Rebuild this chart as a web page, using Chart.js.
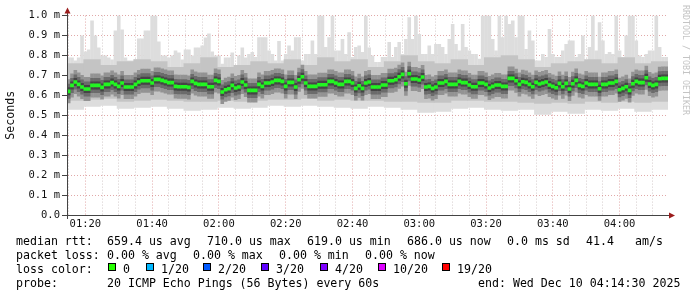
<!DOCTYPE html>
<html>
<head>
<meta charset="utf-8">
<title>SmokePing latency</title>
<script src="https://cdn.jsdelivr.net/npm/chart.js@4.4.1/dist/chart.umd.min.js"></script>
<style>
    body { margin: 0; background: #ffffff; }
    #wrap { position: relative; width: 697px; height: 297px; overflow: hidden; }
    #graph { position: absolute; left: 0; top: 0; }
    .legend-text {
        position: absolute;
        font-family: 'DejaVu Sans Mono', monospace;
        font-size: 11.6px;
        line-height: 14px;
        color: #000000;
        white-space: pre;
    }
    .loss-box {
        position: absolute;
        width: 8px;
        height: 8px;
        box-sizing: border-box;
        border: 1px solid #000000;
    }
    #brand {
        position: absolute;
        left: 681px;
        top: 5px;
        writing-mode: vertical-rl;
        font-family: 'DejaVu Sans Mono', monospace;
        font-size: 8.3px;
        color: #c4c4c4;
        white-space: pre;
    }
</style>
</head>
<body>
<div id="wrap">
    <canvas id="graph" width="697" height="297"></canvas>
    <div id="legend"></div>
    <div id="brand">RRDTOOL / TOBI OETIKER</div>
</div>

<script>
// Time axis: minutes after 01:14:30, one sample per minute (180 samples)
const tickLabels = ['01:20', '01:40', '02:00', '02:20', '02:40', '03:00', '03:20', '03:40', '04:00'];
const yTicks = [0, 0.1, 0.2, 0.3, 0.4, 0.5, 0.6, 0.7, 0.8, 0.9, 1.0];

// median rtt in ms, one value per minute
const median = [
    0.620, 0.650, 0.667, 0.655, 0.642, 0.632, 0.632, 0.650, 0.650, 0.650,
    0.640, 0.655, 0.655, 0.664, 0.655, 0.645, 0.662, 0.642, 0.642, 0.642,
    0.655, 0.667, 0.673, 0.673, 0.673, 0.662, 0.680, 0.680, 0.675, 0.670,
    0.664, 0.664, 0.645, 0.643, 0.643, 0.643, 0.640, 0.670, 0.660, 0.655,
    0.655, 0.655, 0.643, 0.643, 0.675, 0.670, 0.617, 0.628, 0.633, 0.650,
    0.637, 0.642, 0.667, 0.652, 0.625, 0.625, 0.625, 0.655, 0.645, 0.662,
    0.662, 0.667, 0.675, 0.675, 0.670, 0.645, 0.665, 0.665, 0.642, 0.678,
    0.693, 0.662, 0.645, 0.645, 0.645, 0.653, 0.653, 0.653, 0.670, 0.670,
    0.662, 0.655, 0.655, 0.670, 0.670, 0.662, 0.635, 0.648, 0.635, 0.662,
    0.667, 0.642, 0.642, 0.642, 0.652, 0.652, 0.673, 0.673, 0.678, 0.693,
    0.705, 0.658, 0.708, 0.682, 0.682, 0.677, 0.692, 0.642, 0.645, 0.635,
    0.642, 0.662, 0.662, 0.670, 0.655, 0.655, 0.655, 0.670, 0.664, 0.664,
    0.652, 0.643, 0.643, 0.662, 0.662, 0.655, 0.637, 0.645, 0.652, 0.652,
    0.645, 0.645, 0.685, 0.685, 0.673, 0.655, 0.668, 0.665, 0.655, 0.643,
    0.665, 0.657, 0.662, 0.667, 0.652, 0.645, 0.638, 0.660, 0.643, 0.660,
    0.632, 0.658, 0.675, 0.650, 0.645, 0.662, 0.655, 0.655, 0.655, 0.633,
    0.655, 0.655, 0.662, 0.662, 0.670, 0.628, 0.635, 0.643, 0.625, 0.658,
    0.670, 0.664, 0.664, 0.688, 0.657, 0.650, 0.655, 0.683, 0.685, 0.685
];

// slowest ping of each minute (top of the light smoke), ms
const smokeMax = [
    0.790, 0.790, 0.775, 0.790, 0.900, 0.820, 0.830, 0.975, 0.900, 0.840,
    0.800, 0.800, 0.790, 0.780, 0.925, 1.000, 0.930, 0.790, 0.775, 0.775,
    0.780, 0.885, 0.885, 0.925, 0.925, 1.000, 1.000, 0.870, 0.800, 0.800,
    0.790, 0.800, 0.825, 0.815, 0.780, 0.830, 0.830, 0.800, 0.840, 0.840,
    0.850, 0.890, 0.910, 0.820, 0.800, 0.800, 0.758, 0.790, 0.790, 0.815,
    0.742, 0.800, 0.840, 0.790, 0.808, 0.817, 0.792, 0.892, 0.892, 0.892,
    0.825, 0.808, 0.775, 0.872, 0.775, 0.808, 0.850, 0.825, 0.892, 0.892,
    0.775, 0.808, 0.808, 0.875, 0.808, 1.000, 1.000, 0.842, 0.892, 1.000,
    0.825, 0.825, 0.883, 0.808, 0.917, 0.792, 0.842, 0.850, 0.817, 1.000,
    0.840, 0.800, 0.767, 0.767, 0.792, 0.792, 0.867, 0.792, 0.842, 0.867,
    0.808, 0.883, 0.992, 0.883, 1.000, 0.908, 0.808, 0.808, 0.850, 0.808,
    0.858, 0.858, 0.842, 0.808, 0.883, 0.958, 0.858, 0.825, 0.958, 0.842,
    0.825, 0.808, 0.808, 0.783, 1.000, 1.000, 1.000, 0.883, 0.825, 1.000,
    0.892, 1.000, 0.958, 0.975, 0.892, 1.000, 1.000, 0.833, 0.925, 0.875,
    0.775, 0.775, 0.808, 0.792, 0.933, 0.808, 0.792, 0.792, 0.825, 0.858,
    0.875, 0.875, 0.792, 0.808, 0.900, 0.775, 0.842, 1.000, 0.825, 0.967,
    0.875, 0.808, 0.817, 0.808, 1.000, 0.825, 0.792, 0.900, 1.000, 1.000,
    0.875, 0.800, 0.792, 0.808, 0.825, 0.825, 1.000, 0.842, 0.792, 0.792
];

// coarser smoke edges, one value per 5 minutes (36 blocks)
const smokeMin = [
    0.530, 0.545, 0.550, 0.535, 0.540, 0.545, 0.535, 0.525, 0.530, 0.540,
    0.535, 0.540, 0.550, 0.545, 0.550, 0.545, 0.540, 0.535, 0.545, 0.540,
    0.530, 0.515, 0.520, 0.535, 0.540, 0.530, 0.525, 0.530, 0.505, 0.520,
    0.510, 0.530, 0.525, 0.535, 0.520, 0.530
];
const midHigh = [
    0.760, 0.780, 0.750, 0.770, 0.780, 0.770, 0.740, 0.760, 0.790, 0.740,
    0.750, 0.770, 0.760, 0.780, 0.750, 0.790, 0.770, 0.780, 0.740, 0.770,
    0.800, 0.770, 0.760, 0.780, 0.750, 0.790, 0.800, 0.780, 0.740, 0.760,
    0.770, 0.780, 0.760, 0.790, 0.760, 0.770
];
const midLow = [
    0.575, 0.580, 0.585, 0.570, 0.575, 0.580, 0.575, 0.570, 0.570, 0.575,
    0.570, 0.575, 0.580, 0.580, 0.585, 0.575, 0.580, 0.575, 0.575, 0.570,
    0.570, 0.565, 0.565, 0.575, 0.575, 0.570, 0.570, 0.565, 0.560, 0.565,
    0.560, 0.570, 0.565, 0.570, 0.565, 0.570
];

// loss colour legend
const lossLabels = ['0', '1/20', '2/20', '3/20', '4/20', '10/20', '19/20'];
const lossColors = ['#26ff00', '#00b8ff', '#0059ff', '#5e00ff', '#7e00ff', '#dd00ff', '#ff0000'];

const SMOKE_LIGHT = '#dddddd';
const SMOKE_BASE = 0.64;

Chart.defaults.font.family = "'DejaVu Sans Mono', monospace";
Chart.defaults.color = '#111111';

document.addEventListener('DOMContentLoaded', function() {
    drawGraph();
    drawLegend();
});

function isMajorTime(v) {
    const i = (v - 5.5) / 20;
    return Number.isInteger(i) && i >= 0 && i < tickLabels.length;
}

// red arrows and the axis overhang that rrdtool draws
const axisArrows = {
    id: 'axisArrows',
    afterDraw(chart) {
        const { ctx, chartArea } = chart;
        const { left, right, top, bottom } = chartArea;
        const x0 = Math.round(left) + 0.5;
        const y0 = Math.round(bottom) + 0.5;
        ctx.save();
        ctx.strokeStyle = '#444444';
        ctx.lineWidth = 1;
        ctx.beginPath();
        ctx.moveTo(left - 5, y0);
        ctx.lineTo(right + 3, y0);
        ctx.moveTo(x0, bottom + 4);
        ctx.lineTo(x0, top - 4);
        ctx.stroke();

        ctx.fillStyle = '#9b1c1c';
        ctx.beginPath();
        ctx.moveTo(x0 - 3, top - 2);
        ctx.lineTo(x0 + 3, top - 2);
        ctx.lineTo(x0, top - 8);
        ctx.closePath();
        ctx.fill();
        ctx.beginPath();
        ctx.moveTo(right + 1, y0 - 3);
        ctx.lineTo(right + 1, y0 + 3);
        ctx.lineTo(right + 7, y0);
        ctx.closePath();
        ctx.fill();
        ctx.restore();
    }
};

function drawGraph() {
    const canvas = document.getElementById('graph');
    const ctx = canvas.getContext('2d');

    const perMinute = (arr) => arr.map((v, i) => ({ x: i + 0.5, y: v }));
    const perBlock = (lo, hi) => lo.map((v, i) => ({ x: i * 5 + 2.5, y: [v, Array.isArray(hi) ? hi[i] : hi] }));

    // bands around the median, drawn as short vertical strokes per minute
    const band = (radius, color, order) => ({
        type: 'line',
        data: perMinute(median),
        showLine: false,
        pointStyle: 'line',
        pointRotation: 90,
        pointRadius: radius,
        pointBorderWidth: 3.6,
        pointBorderColor: color,
        pointBackgroundColor: color,
        order: order
    });

    new Chart(ctx, {
        data: {
            datasets: [
                {
                    type: 'line',
                    label: 'median rtt',
                    data: perMinute(median),
                    showLine: false,
                    pointStyle: 'line',
                    pointRotation: 0,
                    pointRadius: 1.9,
                    pointBorderWidth: 3.6,
                    pointBorderColor: '#22f522',
                    pointBackgroundColor: '#22f522',
                    order: 0
                },
                band(4, '#454545', 1),
                band(7.5, '#6b6b6b', 2),
                band(12, '#939393', 3),
                {
                    type: 'bar',
                    xAxisID: 'x2',
                    data: perBlock(midLow, midHigh),
                    backgroundColor: '#c4c4c4',
                    borderWidth: 0,
                    grouped: false,
                    categoryPercentage: 1,
                    barPercentage: 1,
                    order: 4
                },
                {
                    type: 'bar',
                    data: perMinute(smokeMax),
                    base: SMOKE_BASE,
                    backgroundColor: SMOKE_LIGHT,
                    borderWidth: 0,
                    grouped: false,
                    categoryPercentage: 1,
                    barPercentage: 1.08,
                    order: 5
                },
                {
                    type: 'bar',
                    xAxisID: 'x2',
                    data: perBlock(smokeMin, SMOKE_BASE),
                    backgroundColor: SMOKE_LIGHT,
                    borderWidth: 0,
                    grouped: false,
                    categoryPercentage: 1,
                    barPercentage: 1,
                    order: 6
                }
            ]
        },
        options: {
            responsive: false,
            animation: false,
            events: [],
            layout: { padding: { left: 0, right: 29, top: 15, bottom: 62 } },
            plugins: {
                legend: { display: false },
                tooltip: { enabled: false }
            },
            scales: {
                x: {
                    type: 'linear',
                    min: 0,
                    max: 180,
                    offset: false,
                    z: 1,
                    afterFit: (scale) => { scale.height = 20; },
                    afterBuildTicks: (scale) => {
                        const ticks = [];
                        for (let v = 0.5; v < 180; v += 5) ticks.push({ value: v });
                        scale.ticks = ticks;
                    },
                    ticks: {
                        autoSkip: false,
                        maxRotation: 0,
                        minRotation: 0,
                        padding: 3,
                        font: { size: 10.5 },
                        color: '#111111',
                        callback: (v) => isMajorTime(v) ? tickLabels[(v - 5.5) / 20] : ''
                    },
                    grid: {
                        offset: false,
                        drawTicks: false,
                        color: (c) => (c.tick && isMajorTime(c.tick.value)) ? 'rgba(205,110,110,0.6)' : 'rgba(175,160,160,0.55)'
                    },
                    border: { display: true, color: '#444444', dash: [1, 2] }
                },
                x2: {
                    type: 'linear',
                    min: 0,
                    max: 180,
                    offset: false,
                    grid: { offset: false },
                    display: false
                },
                y: {
                    min: 0,
                    max: 1.0,
                    z: 1,
                    afterFit: (scale) => { scale.width = 67; },
                    afterBuildTicks: (scale) => {
                        scale.ticks = yTicks.map(v => ({ value: v }));
                    },
                    ticks: {
                        padding: 2,
                        font: { size: 10.5 },
                        color: '#111111',
                        callback: (v) => v === 0 ? '0.0' : v.toFixed(1) + ' m'
                    },
                    grid: {
                        tickLength: 5,
                        tickColor: '#444444',
                        color: (c) => (c.tick && c.tick.value === 0) ? 'rgba(0,0,0,0)' : 'rgba(205,110,110,0.6)'
                    },
                    border: { display: true, color: '#444444', dash: [1, 2] },
                    title: {
                        display: true,
                        text: 'Seconds',
                        color: '#111111',
                        font: { size: 11.6 },
                        padding: { top: 4, bottom: 0 }
                    }
                }
            }
        },
        plugins: [axisArrows]
    });
}

function drawLegend() {
    const legend = document.getElementById('legend');

    function addText(x, y, text) {
        const span = document.createElement('span');
        span.className = 'legend-text';
        span.style.left = x + 'px';
        span.style.top = (y - 7) + 'px';
        span.textContent = text;
        legend.appendChild(span);
    }

    // summary lines (rrdtool places each field on its own)
    const statLine = [[16, 'median rtt:'], [107, '659.4 us avg'], [207, '710.0 us max'], [307, '619.0 us min'],
                      [407, '686.0 us now'], [507, '0.0 ms sd'], [586, '41.4'], [635, 'am/s']];
    const lossLine = [[16, 'packet loss:'], [107, '0.00 % avg'], [193, '0.00 % max'], [279, '0.00 % min'], [365, '0.00 % now']];
    const probeLine = [[16, 'probe:'], [107, '20 ICMP Echo Pings (56 Bytes) every 60s'], [478, 'end: Wed Dec 10 04:14:30 2025']];

    statLine.forEach(([x, t]) => addText(x, 241, t));
    lossLine.forEach(([x, t]) => addText(x, 255, t));
    probeLine.forEach(([x, t]) => addText(x, 283, t));

    addText(16, 269, 'loss color:');
    const boxX = [108, 146, 203, 261, 320, 378, 442];
    lossLabels.forEach((label, i) => {
        const box = document.createElement('div');
        box.className = 'loss-box';
        box.style.left = boxX[i] + 'px';
        box.style.top = '263px';
        box.style.background = lossColors[i];
        legend.appendChild(box);
        addText(boxX[i] + 15, 269, label);
    });
}
</script>
</body>
</html>
